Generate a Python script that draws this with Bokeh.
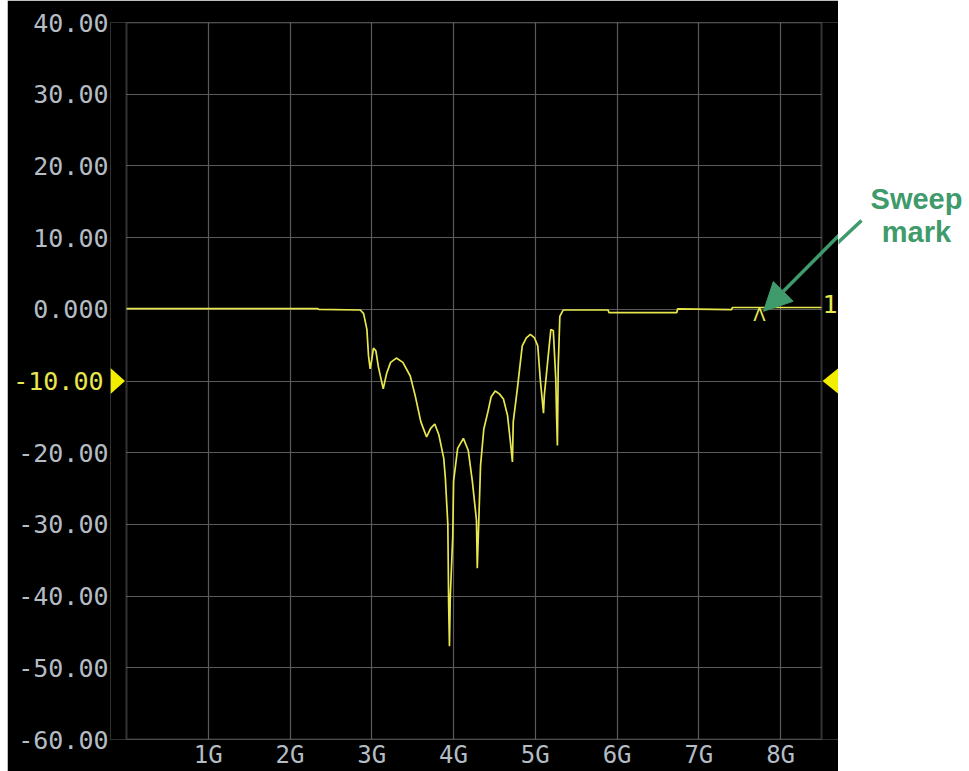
from bokeh.plotting import figure
from bokeh.layouts import row
from bokeh.models import (Range1d, FixedTicker, BoxAnnotation, Label, PolyAnnotation,
                          Arrow, NormalHead, LinearAxis, Spacer)
from bokeh.core.properties import value
from bokeh.embed import file_html
from bokeh.resources import INLINE

# ---- data ----
freq_ghz = [0.00, 2.34, 2.35, 2.86, 2.90, 2.94, 2.96, 2.98, 3.00, 3.02, 3.05, 3.08, 3.14,
            3.18, 3.23, 3.30, 3.38, 3.47, 3.53, 3.60, 3.67, 3.72, 3.77, 3.82, 3.88, 3.90,
            3.93, 3.94, 3.95, 3.96, 3.99, 4.00, 4.05, 4.12, 4.18, 4.23, 4.28, 4.29, 4.33,
            4.37, 4.42, 4.46, 4.51, 4.56, 4.61, 4.66, 4.70, 4.72, 4.73, 4.78, 4.84, 4.89,
            4.94, 4.99, 5.03, 5.06, 5.10, 5.11, 5.15, 5.19, 5.22, 5.25, 5.26, 5.27, 5.28,
            5.30, 5.34, 5.89, 5.90, 6.73, 6.74, 7.40, 7.41, 8.50]
s11_db = [0.10, 0.10, 0.00, -0.10, -0.60, -2.80, -6.50, -8.30, -7.00, -5.40, -5.80, -8.00,
          -11.10, -9.00, -7.40, -6.80, -7.40, -9.30, -12.00, -15.70, -17.80, -16.60, -16.00,
          -17.50, -20.80, -23.60, -30.00, -41.20, -47.00, -40.00, -31.70, -24.00, -19.40,
          -18.00, -19.70, -24.00, -29.40, -36.10, -21.80, -16.70, -14.30, -12.20, -11.40,
          -11.80, -12.50, -14.80, -19.00, -21.30, -15.70, -11.10, -5.10, -4.00, -3.50,
          -4.00, -5.10, -9.70, -14.50, -12.00, -7.40, -2.80, -3.00, -9.70, -14.80, -19.00,
          -8.00, -1.00, -0.10, -0.10, -0.45, -0.45, 0.05, -0.05, 0.25, 0.25]

y_ticks = [-60, -50, -40, -30, -20, -10, 0, 10, 20, 30, 40]
y_tick_labels = ["-60.00", "-50.00", "-40.00", "-30.00", "-20.00", "-10.00",
                 "0.000", "10.00", "20.00", "30.00", "40.00"]
x_ticks = [1, 2, 3, 4, 5, 6, 7, 8]
x_tick_labels = ["1G", "2G", "3G", "4G", "5G", "6G", "7G", "8G"]
x_span_ghz = [0.0, 8.5]
y_span_db = [-60, 40]
reference_level_db = -10
sweep_mark_ghz = 7.74
trace_number = "1"
annotation_lines = ["Sweep", "mark"]

# ---- layout / styles ----
GRAY_TXT = "#b4bcc4"
YELLOW = "#e8e84e"
TRI_YELLOW = "#f2ee00"
GREEN = "#3f9a6c"
MONO = "DejaVu Sans Mono"
FS_Y = "25px"
FS_X = "24px"

H = 771
PAD_L = 7                      # white strip left of the black panel
W1, W2 = 838 - PAD_L, 130
FRAME_L, FRAME_R, FRAME_T, FRAME_B = 110, 838, 22, 742   # page pixels
BOX_L, BOX_R = 126, 821
PXG = (BOX_R - BOX_L) / (x_span_ghz[1] - x_span_ghz[0])
PXD = (FRAME_B - FRAME_T) / (y_span_db[1] - y_span_db[0])


def gx(px):
    return x_span_ghz[0] + (px - BOX_L) / PXG


def dy(py):
    return y_span_db[1] - (py - FRAME_T) / PXD


p = figure(width=W1, height=H, output_backend="svg", toolbar_location=None,
           title_location=None,
           x_range=Range1d(gx(FRAME_L), gx(FRAME_R)), y_range=Range1d(*y_span_db),
           min_border_left=FRAME_L - PAD_L, min_border_right=0,
           min_border_top=FRAME_T, min_border_bottom=H - FRAME_B)
p.border_fill_color = "black"
p.background_fill_color = "black"
p.outline_line_color = None

# main y axis (gray labels)
ya = p.yaxis[0]
ya.ticker = FixedTicker(ticks=[t for t in y_ticks if t != reference_level_db])
ya.major_label_overrides = {t: l for t, l in zip(y_ticks, y_tick_labels)}
ya.major_label_standoff = 2
# second y axis carrying the yellow reference-level label
yb = LinearAxis(ticker=FixedTicker(ticks=[reference_level_db]),
                major_label_overrides={reference_level_db: y_tick_labels[y_ticks.index(reference_level_db)]})
p.add_layout(yb, "left")
yb.major_label_standoff = -88

xa = p.xaxis[0]
xa.ticker = FixedTicker(ticks=x_ticks)
xa.major_label_overrides = {t: l for t, l in zip(x_ticks, x_tick_labels)}
xa.major_label_standoff = 1

for ax, col, fs in ((xa, GRAY_TXT, FS_X), (ya, GRAY_TXT, FS_Y), (yb, YELLOW, FS_Y)):
    ax.axis_line_color = None
    ax.major_tick_line_color = None
    ax.minor_tick_line_color = None
    ax.major_tick_out = 0
    ax.major_tick_in = 0
    ax.major_label_text_color = col
    ax.major_label_text_font = MONO
    ax.major_label_text_font_size = fs

p.xgrid.ticker = FixedTicker(ticks=x_ticks)
p.ygrid.ticker = FixedTicker(ticks=y_ticks)
p.grid.grid_line_color = "#5a5a5a"
p.grid.grid_line_width = 1.2

# keep grid lines inside the plot box
p.add_layout(BoxAnnotation(right=x_span_ghz[0], fill_color="black", fill_alpha=1,
                           line_alpha=0, level="underlay"))
p.add_layout(BoxAnnotation(left=x_span_ghz[1], fill_color="black", fill_alpha=1,
                           line_alpha=0, level="underlay"))
# plot box outline
p.add_layout(BoxAnnotation(left=x_span_ghz[0], right=x_span_ghz[1],
                           bottom=y_span_db[0], top=y_span_db[1],
                           fill_alpha=0, line_color="#a6a6a6", line_width=2))

# trace
p.line(freq_ghz, s11_db, line_color=YELLOW, line_width=1.7)

# sweep marker glyph on the trace
p.text(x=[sweep_mark_ghz], y=[dy(315)], text=["Λ"], text_color=YELLOW,
       text_font=value("DejaVu Sans"), text_font_size="18px", text_align="center",
       text_baseline="middle")

# reference-level triangles and trace number
half = 13 / PXD
p.add_layout(PolyAnnotation(xs=[gx(110), gx(124.5), gx(110)],
                            ys=[reference_level_db + half, reference_level_db, reference_level_db - half],
                            fill_color=TRI_YELLOW, fill_alpha=1, line_alpha=0))
p.add_layout(PolyAnnotation(xs=[gx(838), gx(822), gx(838)],
                            ys=[reference_level_db + half, reference_level_db, reference_level_db - half],
                            fill_color=TRI_YELLOW, fill_alpha=1, line_alpha=0))
p.add_layout(Label(x=gx(822), y=dy(305), text=trace_number,
                   text_color=YELLOW, text_font=MONO, text_font_size=FS_Y,
                   text_align="left", text_baseline="middle"))

# annotation arrow (continues into the right panel)
arrow_xs = [gx(861), gx(763)]
arrow_ys = [dy(213), dy(312)]
p.add_layout(Arrow(x_start=arrow_xs[0], y_start=arrow_ys[0], x_end=arrow_xs[1], y_end=arrow_ys[1],
                   line_color=GREEN, line_width=3.5,
                   end=NormalHead(size=28, fill_color=GREEN, line_color=GREEN)))

# right white panel with the annotation text
p2 = figure(width=W2, height=H, output_backend="svg", toolbar_location=None,
            title_location=None,
            x_range=Range1d(gx(FRAME_R), gx(FRAME_R + W2)), y_range=Range1d(dy(H), dy(0)),
            x_axis_location=None, y_axis_location=None,
            min_border_left=0, min_border_right=0, min_border_top=0, min_border_bottom=0)
p2.border_fill_color = "white"
p2.background_fill_color = "white"
p2.outline_line_color = None
p2.grid.visible = False
p2.add_layout(Arrow(x_start=arrow_xs[0], y_start=arrow_ys[0], x_end=arrow_xs[1], y_end=arrow_ys[1],
                    line_color=GREEN, line_width=3.5, end=None))
for txt, mid in zip(annotation_lines, (190, 225)):
    p2.add_layout(Label(x=gx(916), y=dy(mid), text=txt, text_color=GREEN,
                        text_font="Liberation Sans", text_font_style="bold",
                        text_font_size="29px", text_align="center",
                        text_baseline="middle"))

layout = row(Spacer(width=PAD_L, height=H), p, p2)
open("out.html", "w").write(file_html(layout, INLINE))
